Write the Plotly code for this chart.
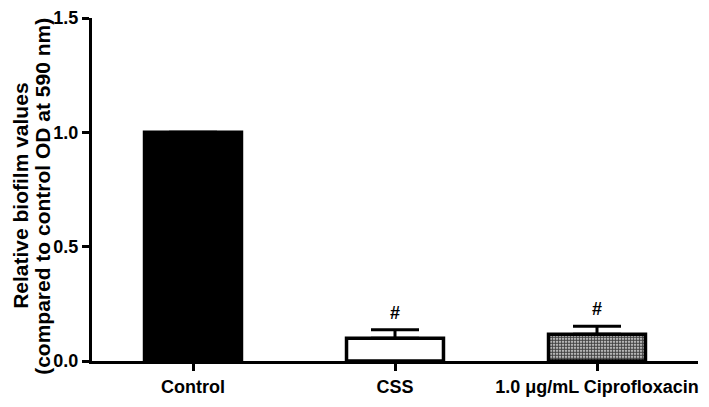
import plotly.graph_objects as go

groups = ["Control", "CSS", "1.0 μg/mL Ciprofloxacin"]
means = [1.0, 0.10, 0.117]
sem_up = [0.0, 0.037, 0.035]
marks = ["", "#", "#"]
ytitle_lines = ["Relative biofilm values", "(compared to control OD at 590 nm)"]

FONT = "Liberation Sans, Arial, sans-serif"

fig = go.Figure()
fig.add_trace(go.Bar(
    x=groups,
    y=means,
    width=0.48,
    marker=dict(
        color=["black", "white", "white"],
        line=dict(color="black", width=3.5),
        pattern=dict(
            shape=["", "", "."],
            fillmode="overlay",
            fgcolor="#111111",
            fgopacity=1,
            size=3,
            solidity=0.7,
        ),
    ),
    error_y=dict(type="data", symmetric=False, array=sem_up,
                 arrayminus=[0, 0, 0], color="black", thickness=3, width=24),
    showlegend=False,
))

for g, m, e, t in zip(groups, means, sem_up, marks):
    if t:
        fig.add_annotation(x=g, y=m + e, text=t, showarrow=False, yshift=17,
                           yanchor="middle",
                           font=dict(family=FONT, size=18, color="black", weight="bold"))

# y-axis title, one annotation per line so the spacing can be set tight
for px_x, line in zip([12.5, 34.5], ytitle_lines):
    fig.add_annotation(
        xref="paper", yref="paper", x=(px_x - 84) / 606, y=0.48,
        xanchor="center", yanchor="middle", textangle=-90, showarrow=False,
        text=line,
        font=dict(family=FONT, size=21, color="black", weight="bold"),
    )

# the page body adds an 8px offset, so the figure is trimmed by that amount
fig.update_layout(
    width=701, height=399,
    margin=dict(l=84, r=11, t=10, b=46),
    paper_bgcolor="white", plot_bgcolor="white",
    font=dict(family=FONT, color="black"),
)
fig.update_xaxes(
    range=[-0.5, 2.5], automargin=False, ticklabeloverflow="allow",
    showline=True, linecolor="black", linewidth=3,
    ticks="outside", ticklen=7, tickwidth=3, tickcolor="black",
    tickfont=dict(family=FONT, size=18, color="black", weight="bold"),
    showgrid=False,
)
fig.update_yaxes(
    range=[0, 1.5], automargin=False, ticklabeloverflow="allow",
    tickvals=[0, 0.5, 1.0, 1.5],
    ticktext=["0.0", "0.5", "1.0", "1.5"],
    showline=True, linecolor="black", linewidth=3,
    ticks="outside", ticklen=7, tickwidth=3, tickcolor="black",
    tickfont=dict(family=FONT, size=18, color="black", weight="bold"),
    showgrid=False, zeroline=False,
)

fig.write_html("out.html")
